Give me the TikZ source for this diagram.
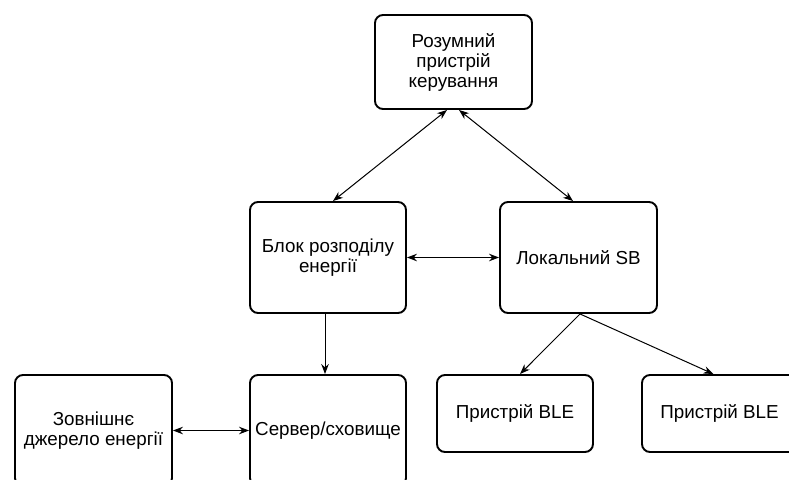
\documentclass[tikz,border=0pt]{standalone}
\usepackage{fontspec}
\setmainfont{Liberation Sans}
\usetikzlibrary{arrows.meta}
\begin{document}
\begin{tikzpicture}[x=1pt,y=-1pt,
  box/.style={draw=black, line width=1.9pt, rounded corners=8pt, fill=white,
    minimum width=#1, align=center, inner sep=1pt,
    font=\fontsize{18.8}{20}\selectfont},
  box/.default=156pt,
  link/.style={draw=black, line width=1pt},
  tip/.style={-{Stealth[length=10pt,width=7.5pt]}},
  tips/.style={{Stealth[length=10pt,width=7.5pt]}-{Stealth[length=10pt,width=7.5pt]}}]
\useasboundingbox (0,0) rectangle (789,479);
\clip (0,0) rectangle (789,479);
\fill[white] (0,0) rectangle (789,479);

% boxes
\node[box=157pt, minimum height=94pt] (ctrl) at (453.5,62) {Розумний\\пристрій\\керування};
\node[box, minimum height=111pt] (dist) at (328,257.5) {Блок розподілу\\енергії};
\node[box=157pt, minimum height=111pt] (lsb) at (578.5,257.5) {Локальний SB};
\node[box=157pt, minimum height=111pt] (ext) at (93.5,430.5) {Зовнішнє\\джерело енергії};
\node[box, minimum height=111pt] (srv) at (328,430.5) {Сервер/сховище};
\node[box, minimum height=77pt] (ble1) at (515,413.5) {Пристрій BLE};
\node[box=155pt, minimum height=77pt] (ble2) at (719.5,413.5) {Пристрій BLE};

% connectors
\draw[link,tips] ([xshift=-6.5pt]ctrl.south) -- ([xshift=5pt]dist.north);
\draw[link,tips] ([xshift=5.5pt]ctrl.south) -- ([xshift=-5.5pt]lsb.north);
\draw[link,tips] (dist.east) -- (lsb.west);
\draw[link,tip] ([xshift=-3pt]dist.south) -- ([xshift=-3pt]srv.north);
\draw[link,tips] (ext.east) -- (srv.west);
\draw[link,tip] ([xshift=1.5pt]lsb.south) -- ([xshift=5pt]ble1.north);
\draw[link,tip] ([xshift=1.5pt]lsb.south) -- ([xshift=-6pt]ble2.north);
\end{tikzpicture}
\end{document}
